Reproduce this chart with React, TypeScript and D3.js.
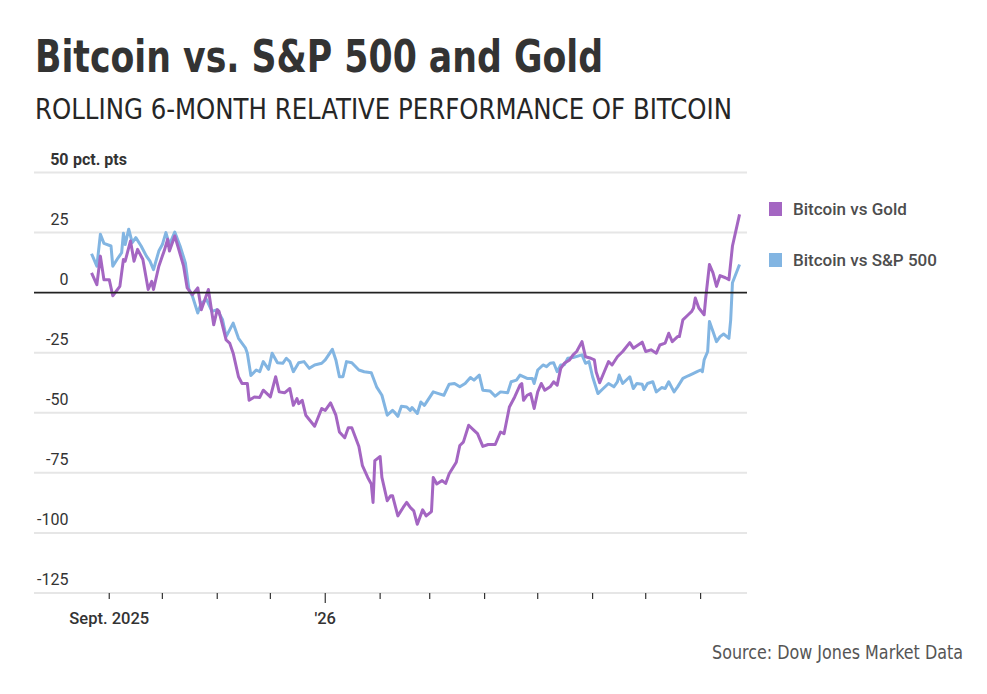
import { useMemo } from "react";
import * as d3 from "d3";

// Rolling 6-month relative performance of bitcoin, pct. pts
const bitcoinVsGold: [string, number][] = [
  ["2025-08-22", 8.2], ["2025-08-25", 3.3], ["2025-08-27", 15.2], ["2025-08-29", 5.4],
  ["2025-09-01", 5.4], ["2025-09-03", -1.3], ["2025-09-07", 2.6], ["2025-09-09", 13.8],
  ["2025-09-10", 13.1], ["2025-09-13", 21.5], ["2025-09-15", 13.1], ["2025-09-17", 18],
  ["2025-09-20", 13.8], ["2025-09-23", 1.3], ["2025-09-25", 4.7], ["2025-09-26", 1.3],
  ["2025-09-29", 11], ["2025-10-01", 15.2], ["2025-10-02", 17.3], ["2025-10-04", 22.2],
  ["2025-10-05", 17.3], ["2025-10-08", 23.6], ["2025-10-10", 18.7], ["2025-10-13", 11],
  ["2025-10-15", 2], ["2025-10-18", -0.8], ["2025-10-21", 2], ["2025-10-23", -7.1],
  ["2025-10-27", 1.3], ["2025-10-30", -13.4], ["2025-11-01", -7.1], ["2025-11-02", -7.8],
  ["2025-11-06", -19.7], ["2025-11-08", -21], ["2025-11-10", -25.2], ["2025-11-13", -35],
  ["2025-11-15", -37.8], ["2025-11-18", -37.8], ["2025-11-19", -44.8], ["2025-11-22", -43.4],
  ["2025-11-25", -43.6], ["2025-11-27", -40.6], ["2025-12-01", -43.4], ["2025-12-04", -35],
  ["2025-12-06", -41.3], ["2025-12-09", -41.7], ["2025-12-12", -39.9], ["2025-12-14", -46.9],
  ["2025-12-16", -44.1], ["2025-12-17", -46.2], ["2025-12-19", -44.8], ["2025-12-21", -51],
  ["2025-12-26", -55.6], ["2025-12-30", -48.2], ["2026-01-01", -49], ["2026-01-04", -45.9],
  ["2026-01-07", -51], ["2026-01-09", -58], ["2026-01-12", -60.4], ["2026-01-14", -56.2],
  ["2026-01-16", -56.2], ["2026-01-20", -64], ["2026-01-22", -72], ["2026-01-25", -76.9],
  ["2026-01-27", -79.6], ["2026-01-28", -87.3], ["2026-01-29", -69.9], ["2026-02-01", -68.2],
  ["2026-02-02", -76.9], ["2026-02-05", -86.6], ["2026-02-07", -84.5], ["2026-02-08", -84.5],
  ["2026-02-11", -92.9], ["2026-02-14", -89.4], ["2026-02-16", -87.3], ["2026-02-18", -89.4],
  ["2026-02-20", -90.8], ["2026-02-22", -96.4], ["2026-02-25", -90.4], ["2026-02-27", -92.9],
  ["2026-03-02", -91.1], ["2026-03-03", -76.9], ["2026-03-05", -79.6], ["2026-03-08", -78.2],
  ["2026-03-10", -79.4], ["2026-03-12", -75.4], ["2026-03-16", -70.6], ["2026-03-18", -63.6],
  ["2026-03-20", -62.2], ["2026-03-23", -55.2], ["2026-03-26", -57.3], ["2026-03-28", -58.7],
  ["2026-03-31", -64], ["2026-04-03", -63.2], ["2026-04-07", -63.2], ["2026-04-10", -58],
  ["2026-04-12", -58.7], ["2026-04-15", -47.6], ["2026-04-18", -43.4], ["2026-04-21", -38.5],
  ["2026-04-22", -37.8], ["2026-04-23", -44.8], ["2026-04-25", -42.7], ["2026-04-27", -42],
  ["2026-04-29", -48.2], ["2026-05-01", -41.3], ["2026-05-03", -37.8], ["2026-05-05", -40.6],
  ["2026-05-08", -39.2], ["2026-05-10", -37.1], ["2026-05-12", -38.5], ["2026-05-14", -31.5],
  ["2026-05-16", -29.4], ["2026-05-19", -28], ["2026-05-21", -25.9], ["2026-05-23", -24.5],
  ["2026-05-26", -20.4], ["2026-05-28", -26.7], ["2026-05-31", -27.3], ["2026-06-02", -28],
  ["2026-06-03", -32.9], ["2026-06-05", -37.5], ["2026-06-08", -32.2], ["2026-06-10", -28.7],
  ["2026-06-12", -30.1], ["2026-06-15", -26.7], ["2026-06-18", -24.5], ["2026-06-22", -20.8],
  ["2026-06-24", -23.1], ["2026-06-29", -20.6], ["2026-07-01", -24.5], ["2026-07-04", -23.8],
  ["2026-07-07", -25.2], ["2026-07-09", -21.8], ["2026-07-12", -21], ["2026-07-14", -16.9],
  ["2026-07-16", -20.4], ["2026-07-19", -18.3], ["2026-07-20", -18.3], ["2026-07-22", -11.3],
  ["2026-07-25", -9.2], ["2026-07-27", -7.8], ["2026-07-28", -6.4], ["2026-07-29", -2.2],
  ["2026-07-31", -6.4], ["2026-08-03", -9.2], ["2026-08-04", -1.5], ["2026-08-06", 11.7],
  ["2026-08-08", 8.2], ["2026-08-10", 2.6], ["2026-08-12", 7.1], ["2026-08-15", 6.2],
  ["2026-08-17", 5.4], ["2026-08-19", 19.4], ["2026-08-23", 32.6],
];

const bitcoinVsSP500: [string, number][] = [
  ["2025-08-22", 16.2], ["2025-08-25", 11], ["2025-08-27", 24.3], ["2025-08-29", 20.5],
  ["2025-09-02", 19.4], ["2025-09-03", 11], ["2025-09-06", 14.5], ["2025-09-08", 16.6],
  ["2025-09-09", 24.7], ["2025-09-10", 20], ["2025-09-12", 26.4], ["2025-09-14", 20.8],
  ["2025-09-16", 22.9], ["2025-09-19", 19.4], ["2025-09-22", 15.2], ["2025-09-24", 13.1],
  ["2025-09-26", 9.6], ["2025-09-29", 17.3], ["2025-10-01", 20], ["2025-10-03", 25],
  ["2025-10-05", 20], ["2025-10-08", 25.2], ["2025-10-11", 19.4], ["2025-10-14", 12.4],
  ["2025-10-16", 1.3], ["2025-10-18", -1.5], ["2025-10-21", -8.5], ["2025-10-23", -4.3],
  ["2025-10-26", -2.9], ["2025-10-29", -7.8], ["2025-11-01", -7.1], ["2025-11-04", -11.3],
  ["2025-11-06", -18.3], ["2025-11-10", -12.7], ["2025-11-13", -19], ["2025-11-17", -23.1],
  ["2025-11-18", -25.2], ["2025-11-20", -34.5], ["2025-11-23", -32.2], ["2025-11-25", -32.9],
  ["2025-11-27", -28.7], ["2025-11-30", -31.9], ["2025-12-02", -25.2], ["2025-12-05", -29.2],
  ["2025-12-08", -29.4], ["2025-12-10", -27.3], ["2025-12-12", -28.7], ["2025-12-14", -32.9],
  ["2025-12-17", -29.2], ["2025-12-20", -28.7], ["2025-12-23", -31.5], ["2025-12-26", -30.1],
  ["2025-12-30", -29.4], ["2026-01-01", -28], ["2026-01-05", -23.6], ["2026-01-07", -28],
  ["2026-01-09", -35], ["2026-01-11", -35], ["2026-01-13", -28.7], ["2026-01-16", -29.2],
  ["2026-01-20", -32.2], ["2026-01-23", -32.9], ["2026-01-27", -33.3], ["2026-01-30", -39.2],
  ["2026-02-02", -42.7], ["2026-02-05", -51], ["2026-02-08", -49], ["2026-02-09", -49.7],
  ["2026-02-11", -51.5], ["2026-02-13", -47.3], ["2026-02-16", -47.6], ["2026-02-18", -49],
  ["2026-02-19", -47.8], ["2026-02-22", -50.3], ["2026-02-24", -45.5], ["2026-02-26", -46.9],
  ["2026-03-03", -41.3], ["2026-03-06", -42], ["2026-03-09", -42.7], ["2026-03-12", -38.1],
  ["2026-03-15", -37.8], ["2026-03-18", -39.2], ["2026-03-21", -37.8], ["2026-03-24", -35.3],
  ["2026-03-26", -36.4], ["2026-03-29", -34.3], ["2026-03-31", -40.6], ["2026-04-04", -40.9],
  ["2026-04-07", -43.1], ["2026-04-10", -41.3], ["2026-04-14", -41.7], ["2026-04-16", -37.1],
  ["2026-04-19", -36.4], ["2026-04-21", -34.3], ["2026-04-25", -35.7], ["2026-04-28", -35.7],
  ["2026-04-29", -37.8], ["2026-05-01", -32.2], ["2026-05-04", -30.1], ["2026-05-06", -30.8],
  ["2026-05-08", -29.4], ["2026-05-10", -29.2], ["2026-05-12", -32.9], ["2026-05-14", -30.1],
  ["2026-05-16", -30], ["2026-05-18", -27.3], ["2026-05-21", -27], ["2026-05-26", -25.9],
  ["2026-05-28", -29.4], ["2026-05-30", -28.7], ["2026-06-01", -35], ["2026-06-04", -42],
  ["2026-06-07", -39.9], ["2026-06-10", -37.8], ["2026-06-13", -39.2], ["2026-06-15", -37.1],
  ["2026-06-16", -34.3], ["2026-06-18", -37.8], ["2026-06-22", -35], ["2026-06-24", -39.9],
  ["2026-06-26", -37.8], ["2026-06-29", -38.1], ["2026-06-30", -40.3], ["2026-07-02", -37.8],
  ["2026-07-05", -37.1], ["2026-07-07", -41.3], ["2026-07-10", -39.5], ["2026-07-12", -39.9],
  ["2026-07-14", -37.1], ["2026-07-17", -41.3], ["2026-07-19", -39.2], ["2026-07-22", -35.7],
  ["2026-07-25", -34.6], ["2026-07-28", -33.6], ["2026-07-30", -32.9], ["2026-08-01", -32.2],
  ["2026-08-02", -32.9], ["2026-08-03", -28], ["2026-08-05", -24.5], ["2026-08-06", -12],
  ["2026-08-08", -16.2], ["2026-08-10", -20.4], ["2026-08-12", -18.3], ["2026-08-14", -17.2],
  ["2026-08-17", -19], ["2026-08-18", -11.3], ["2026-08-19", 4.1], ["2026-08-23", 11.7],
];

const yTicks = [50, 25, 0, -25, -50, -75, -100, -125];
const xTickLabels: Record<string, string> = { "2025-09": "Sept. 2025", "2026-01": "'26" };
const legendItems = ["Bitcoin vs Gold", "Bitcoin vs S&P 500"];

const GOLD = "#a466c2";
const SP = "#82b5e2";
const narrow = "'Liberation Sans Narrow', 'DejaVu Sans Condensed', Roboto, sans-serif";
const sans = "Roboto, 'Noto Sans', sans-serif";

const parse = d3.timeParse("%Y-%m-%d");

export default function App() {
  const width = 987;
  const height = 694;
  const left = 34;
  const right = 747;

  const x = useMemo(
    () =>
      d3
        .scaleTime()
        .domain([new Date(2025, 6, 20, 12), new Date(2026, 7, 27, 5)])
        .range([left, right]),
    []
  );
  const y = useMemo(() => d3.scaleLinear().domain([-125, 50]).range([593, 172.5]), []);

  const line = d3
    .line<[string, number]>()
    .x((d) => x(parse(d[0]) as Date))
    .y((d) => y(d[1]))
    .curve(d3.curveLinear);

  const monthTicks = d3.timeMonth.range(new Date(2025, 8, 1), new Date(2026, 7, 2));
  const fmtKey = d3.timeFormat("%Y-%m");

  return (
    <svg
      width={width}
      height={height}
      style={{ position: "absolute", left: 0, top: 0, background: "#fff" }}
    >
      <text
        x={35}
        y={72}
        fontFamily={narrow}
        fontWeight={700}
        fontSize={45}
        fill="#333"
        textLength={568}
        lengthAdjust="spacingAndGlyphs"
      >
        Bitcoin vs. S&amp;P 500 and Gold
      </text>
      <text
        x={35}
        y={119}
        fontFamily={narrow}
        fontSize={29}
        fill="#262626"
        textLength={697}
        lengthAdjust="spacingAndGlyphs"
      >
        ROLLING 6-MONTH RELATIVE PERFORMANCE OF BITCOIN
      </text>

      {/* grid */}
      {yTicks.map((t) => (
        <g key={t}>
          {t !== 0 && (
            <line x1={left} x2={right} y1={y(t)} y2={y(t)} stroke="#e6e6e6" strokeWidth={2} />
          )}
          <text
            x={68.5}
            y={y(t) - 8}
            textAnchor="end"
            fontFamily={sans}
            fontSize={16}
            fontWeight={t === 50 ? 700 : 400}
            fill="#333"
          >
            {t}
          </text>
        </g>
      ))}
      <text x={73} y={y(50) - 8} fontFamily={sans} fontSize={16} fontWeight={700} fill="#333">
        pct. pts
      </text>

      {/* x axis ticks */}
      {monthTicks.map((m) => {
        const key = fmtKey(m);
        const label = xTickLabels[key];
        const isYear = key === "2026-01";
        return (
          <g key={key} transform={`translate(${x(m)},${y(-125)})`}>
            <line y1={0} y2={isYear ? 10 : 6} stroke="#333" strokeWidth={1.2} />
            {label && (
              <text
                y={31}
                textAnchor="middle"
                fontFamily={sans}
                fontSize={16.5}
                fontWeight={500}
                fill="#333"
              >
                {label}
              </text>
            )}
          </g>
        );
      })}

      <path d={line(bitcoinVsSP500) ?? ""} fill="none" stroke={SP} strokeWidth={3} strokeLinejoin="round" />
      <path d={line(bitcoinVsGold) ?? ""} fill="none" stroke={GOLD} strokeWidth={3} strokeLinejoin="round" />

      <line x1={left} x2={right} y1={y(0)} y2={y(0)} stroke="#222" strokeWidth={1.6} />

      {/* legend */}
      {legendItems.map((name, i) => (
        <g key={name} transform={`translate(769,${202 + i * 51})`}>
          <rect width={13} height={14} fill={i === 0 ? GOLD : SP} />
          <text x={24} y={13} fontFamily={sans} fontSize={17} fontWeight={500} fill="#4d4d4d">
            {name}
          </text>
        </g>
      ))}

      <text
        x={963}
        y={659}
        textAnchor="end"
        fontFamily={narrow}
        fontSize={19}
        fill="#555"
        textLength={251}
        lengthAdjust="spacingAndGlyphs"
      >
        Source: Dow Jones Market Data
      </text>
    </svg>
  );
}
